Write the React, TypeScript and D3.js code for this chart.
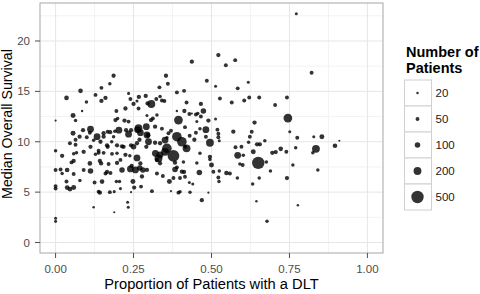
import React from "react";
import { scaleLinear, scaleSqrt, format } from "d3";

// [proportion with DLT, median overall survival, number of patients]
const trials: [number, number, number][] = [
  [0, 12.1, 15], [0, 9.1, 40], [0, 7.2, 50], [0, 5.6, 50], [0, 5.35, 50], [0, 2.4, 30], [0, 2.1, 30],
  [0.021, 8.6, 60], [0.016, 7.25, 50], [0.021, 6.85, 40], [0.037, 7.2, 70], [0.035, 6.05, 50], [0.037, 5.45, 70],
  [0.046, 5.3, 80], [0.058, 5.45, 80], [0.058, 6.8, 50], [0.058, 8.1, 60], [0.051, 7.95, 50], [0.078, 6.15, 40],
  [0.09, 7.2, 50], [0.09, 9.0, 60], [0.11, 7.85, 70], [0.112, 7.1, 100], [0.112, 9.5, 60],
  [0.035, 14.35, 70], [0.08, 15.05, 70], [0.085, 13.05, 20], [0.056, 12.6, 80], [0.064, 12.1, 40], [0.099, 13.95, 40],
  [0.056, 10.85, 80], [0.046, 9.85, 50], [0.077, 10.5, 60], [0.088, 11.15, 60], [0.064, 10.2, 50], [0.064, 9.7, 50],
  [0.058, 8.8, 40], [0.067, 8.9, 40],
  [0.112, 11.25, 150], [0.133, 10.5, 150], [0.154, 10.85, 60], [0.154, 10.5, 60], [0.144, 10.0, 60], [0.167, 9.5, 60],
  [0.186, 10.5, 40], [0.203, 11.15, 150], [0.213, 9.55, 60], [0.138, 9.1, 50], [0.165, 9.65, 60], [0.197, 9.65, 60],
  [0.128, 8.75, 40], [0.138, 8.9, 50], [0.154, 8.9, 50], [0.181, 8.8, 50], [0.197, 8.85, 40], [0.142, 8.1, 60],
  [0.146, 7.85, 60], [0.17, 7.8, 50], [0.197, 7.9, 60], [0.208, 8.2, 50], [0.16, 6.85, 50], [0.165, 7.0, 60],
  [0.176, 6.9, 50], [0.125, 5.95, 50], [0.149, 6.05, 70], [0.195, 6.05, 40], [0.205, 6.05, 40], [0.142, 4.95, 60],
  [0.138, 5.05, 50], [0.174, 5.0, 50], [0.188, 5.05, 30], [0.122, 3.5, 20], [0.188, 3.0, 15],
  [0.186, 16.55, 60], [0.174, 15.75, 40], [0.128, 14.65, 50], [0.147, 15.35, 50], [0.16, 14.35, 60], [0.147, 14.05, 60],
  [0.195, 13.05, 50], [0.192, 12.15, 60], [0.199, 12.3, 40],
  [0.11, 10.9, 50], [0.167, 11.0, 50], [0.175, 10.95, 60], [0.19, 11.05, 40], [0.18, 10.0, 40], [0.1, 10.45, 50],
  [0.122, 10.15, 40],
  [0.224, 13.3, 60], [0.266, 13.3, 50], [0.25, 13.75, 60], [0.234, 14.8, 30], [0.267, 14.45, 60], [0.289, 14.55, 60],
  [0.24, 14.25, 50], [0.261, 14.05, 30], [0.307, 13.75, 200], [0.295, 13.8, 60], [0.323, 14.25, 50], [0.333, 15.4, 50],
  [0.221, 12.1, 60], [0.234, 12.0, 50], [0.293, 12.6, 30], [0.306, 12.15, 60], [0.319, 11.5, 60], [0.266, 11.35, 200],
  [0.291, 11.5, 150], [0.234, 10.75, 150], [0.226, 11.15, 60], [0.242, 11.15, 60], [0.263, 11.2, 150], [0.272, 10.9, 150],
  [0.25, 9.5, 100], [0.269, 10.2, 60], [0.293, 10.67, 150], [0.298, 10.0, 150], [0.296, 10.65, 80], [0.218, 9.5, 60],
  [0.242, 9.65, 60], [0.261, 9.85, 60], [0.291, 9.5, 60], [0.319, 9.9, 60], [0.224, 8.7, 60], [0.238, 8.6, 40],
  [0.261, 8.4, 150], [0.244, 7.6, 60], [0.272, 7.85, 60], [0.213, 7.2, 100], [0.24, 7.3, 150], [0.256, 7.2, 150],
  [0.27, 7.4, 100], [0.28, 7.2, 100], [0.293, 7.2, 60], [0.277, 6.55, 60], [0.248, 6.05, 80], [0.252, 5.45, 60],
  [0.274, 5.55, 50], [0.208, 5.35, 30], [0.242, 5.0, 15], [0.309, 5.1, 50], [0.231, 4.0, 30], [0.233, 3.5, 30],
  [0.32, 8.85, 150], [0.33, 8.35, 200], [0.325, 6.85, 50], [0.325, 8.2, 60], [0.312, 12.3, 50], [0.325, 12.65, 40],
  [0.357, 9.35, 300], [0.378, 8.6, 450], [0.389, 10.5, 300], [0.405, 10.0, 300], [0.42, 9.35, 200], [0.335, 9.85, 60],
  [0.351, 10.17, 150], [0.351, 9.0, 200], [0.335, 8.7, 150], [0.335, 7.86, 60], [0.383, 7.92, 60], [0.389, 7.46, 50],
  [0.405, 7.03, 60], [0.415, 6.53, 50],
  [0.461, 6.95, 100], [0.5, 7.7, 80], [0.495, 8.25, 40], [0.453, 7.9, 40], [0.41, 8.0, 40], [0.383, 7.25, 100],
  [0.412, 7.0, 60], [0.344, 6.6, 50], [0.378, 6.4, 50], [0.399, 6.4, 50], [0.365, 6.05, 80], [0.429, 5.95, 30],
  [0.44, 5.8, 30], [0.37, 5.1, 15], [0.394, 4.95, 50], [0.399, 5.05, 40], [0.431, 5.0, 40], [0.463, 8.85, 40],
  [0.495, 8.5, 60], [0.506, 7.03, 50],
  [0.437, 17.95, 60], [0.354, 16.55, 60], [0.36, 15.75, 50], [0.389, 14.9, 50], [0.412, 15.05, 50], [0.335, 14.5, 40],
  [0.341, 14.1, 50], [0.349, 14.05, 50], [0.42, 13.9, 50], [0.466, 13.75, 60], [0.474, 13.05, 100], [0.413, 13.05, 60],
  [0.389, 13.05, 20], [0.429, 12.75, 50], [0.45, 12.7, 50], [0.456, 12.8, 40], [0.466, 12.5, 50], [0.394, 12.15, 250],
  [0.415, 11.45, 50], [0.482, 11.2, 150], [0.463, 11.3, 40], [0.49, 12.1, 60], [0.453, 12.0, 30], [0.437, 12.8, 15],
  [0.341, 11.3, 50], [0.362, 10.85, 50], [0.357, 10.4, 40], [0.416, 9.5, 50], [0.45, 10.9, 50], [0.37, 11.1, 50],
  [0.43, 10.6, 50], [0.445, 10.2, 60], [0.482, 10.5, 50], [0.495, 9.9, 200],
  [0.772, 22.7, 30], [0.522, 18.6, 60], [0.576, 18.1, 50], [0.546, 17.6, 50], [0.821, 16.85, 50], [0.485, 16.06, 50],
  [0.513, 15.5, 30], [0.618, 15.9, 30], [0.584, 15.3, 50], [0.527, 14.3, 50], [0.565, 13.9, 50], [0.605, 14.1, 50],
  [0.621, 14.4, 50], [0.653, 14.4, 50], [0.742, 14.4, 50], [0.704, 13.65, 50], [0.745, 12.35, 250], [0.751, 11.0, 30],
  [0.775, 10.4, 50], [0.828, 10.5, 30], [0.854, 10.5, 80], [0.91, 10.1, 15], [0.896, 9.6, 70], [0.835, 9.3, 200],
  [0.722, 9.3, 70], [0.77, 9.4, 40],
  [0.513, 12.25, 30], [0.519, 11.2, 50], [0.522, 10.8, 50], [0.522, 10.45, 50], [0.525, 10.1, 30],
  [0.638, 11.9, 60], [0.629, 11.0, 50], [0.623, 10.5, 50], [0.57, 11.0, 60], [0.671, 10.1, 40], [0.646, 9.75, 60],
  [0.655, 9.75, 60], [0.619, 9.95, 40], [0.596, 9.5, 50], [0.577, 9.45, 50], [0.634, 9.0, 80], [0.695, 8.9, 60],
  [0.706, 8.98, 60], [0.74, 9.0, 50], [0.825, 8.9, 40], [0.584, 8.65, 150], [0.602, 8.65, 40], [0.6, 7.7, 50],
  [0.591, 7.8, 40], [0.65, 7.9, 500], [0.676, 8.0, 40], [0.761, 7.7, 40], [0.525, 7.1, 40], [0.548, 6.9, 70],
  [0.559, 6.85, 50], [0.689, 7.1, 40], [0.841, 7.2, 40], [0.522, 6.45, 50], [0.524, 6.05, 40], [0.583, 6.4, 40],
  [0.653, 6.4, 40], [0.742, 6.4, 60], [0.632, 5.8, 40], [0.49, 4.95, 15], [0.469, 4.2, 60], [0.644, 4.1, 20],
  [0.777, 3.7, 20], [0.678, 2.1, 40],
];

const xTicks = [0, 0.25, 0.5, 0.75, 1];
const xMinor = [0.125, 0.375, 0.625, 0.875];
const yTicks = [0, 5, 10, 15, 20];
const yMinor = [2.5, 7.5, 12.5, 17.5, 22.5];
const sizeBreaks = [20, 50, 100, 200, 500];

const W = 480, H = 294;
const panel = { left: 40, right: 383, top: 3, bottom: 253 };
const font = "'Liberation Sans', Arial, sans-serif";

export default function App() {
  const x = scaleLinear().domain([-0.05, 1.05]).range([panel.left, panel.right]);
  const y = scaleLinear().domain([-1.04, 23.77]).range([panel.bottom, panel.top]);
  const r = scaleSqrt().domain([0, 500]).range([0, 6.2]);
  const fmt = format(".2f");

  const keyX = 404.5, keyY = 80, keyW = 27, keyH = 26;

  return (
    <svg width={W} height={H} style={{ position: "absolute", left: 0, top: 0, background: "#fff" }}
      fontFamily={font}>
      <rect x={panel.left} y={panel.top} width={panel.right - panel.left} height={panel.bottom - panel.top} fill="#fff" />
      {/* grid */}
      {xMinor.map(t => (
        <line key={"xm" + t} x1={x(t)} x2={x(t)} y1={panel.top} y2={panel.bottom} stroke="#F3F3F3" strokeWidth={1} />
      ))}
      {yMinor.map(t => (
        <line key={"ym" + t} x1={panel.left} x2={panel.right} y1={y(t)} y2={y(t)} stroke="#F3F3F3" strokeWidth={1} />
      ))}
      {xTicks.map(t => (
        <line key={"xg" + t} x1={x(t)} x2={x(t)} y1={panel.top} y2={panel.bottom} stroke="#E6E6E6" strokeWidth={1} />
      ))}
      {yTicks.map(t => (
        <line key={"yg" + t} x1={panel.left} x2={panel.right} y1={y(t)} y2={y(t)} stroke="#E6E6E6" strokeWidth={1} />
      ))}

      {/* points */}
      <g fill="#000" fillOpacity={0.8}>
        {trials.map((d, i) => (
          <circle key={i} cx={x(d[0])} cy={y(d[1])} r={r(d[2])} />
        ))}
      </g>

      <rect x={panel.left} y={panel.top} width={panel.right - panel.left} height={panel.bottom - panel.top}
        fill="none" stroke="#A6A6A6" strokeWidth={1} />

      {/* x axis */}
      {xTicks.map(t => (
        <g key={"xt" + t}>
          <line x1={x(t)} x2={x(t)} y1={panel.bottom} y2={panel.bottom + 5} stroke="#4D4D4D" strokeWidth={1} />
          <text x={x(t)} y={panel.bottom + 19.5} textAnchor="middle" fontSize={11.5} fill="#4D4D4D">{fmt(t)}</text>
        </g>
      ))}
      {/* y axis */}
      {yTicks.map(t => (
        <g key={"yt" + t}>
          <line x1={panel.left - 5} x2={panel.left} y1={y(t)} y2={y(t)} stroke="#4D4D4D" strokeWidth={1} />
          <text x={panel.left - 10} y={y(t) + 4} textAnchor="end" fontSize={11.5} fill="#4D4D4D">{t}</text>
        </g>
      ))}

      <text x={(panel.left + panel.right) / 2} y={289} textAnchor="middle" fontSize={14.7} fill="#000">
        Proportion of Patients with a DLT
      </text>
      <text transform={`translate(12,124) rotate(-90)`} textAnchor="middle"
        fontSize={14.2} fill="#000">
        Median Overall Survival
      </text>

      {/* legend */}
      <text x={406} y={57} fontSize={14.5} fontWeight="bold" fill="#000">Number of</text>
      <text x={406} y={73} fontSize={14.5} fontWeight="bold" fill="#000">Patients</text>
      {sizeBreaks.map((b, i) => (
        <g key={"k" + b}>
          <rect x={keyX} y={keyY + i * keyH} width={keyW} height={keyH} fill="#fff" stroke="#D0D0D0" strokeWidth={1} />
          <circle cx={keyX + keyW / 2 - 0.5} cy={keyY + i * keyH + keyH / 2} r={r(b)} fill="#000" fillOpacity={0.8} />
          <text x={keyX + keyW + 4} y={keyY + i * keyH + keyH / 2 + 4} fontSize={11.5} fill="#1A1A1A">{b}</text>
        </g>
      ))}
    </svg>
  );
}
